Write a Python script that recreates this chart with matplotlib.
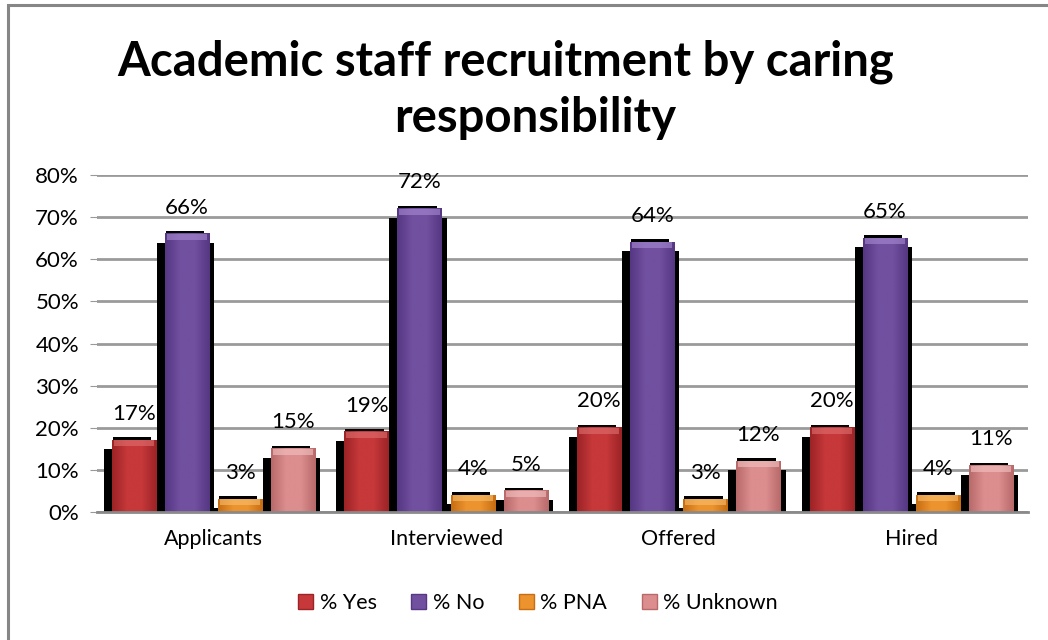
import numpy as np
import matplotlib
matplotlib.use('Agg')
import matplotlib.pyplot as plt
from matplotlib.patches import Patch, Rectangle
from matplotlib.colors import LinearSegmentedColormap

categories = ['Applicants', 'Interviewed', 'Offered', 'Hired']
series = ['% Yes', '% No', '% PNA', '% Unknown']
pct_yes = [17, 19, 20, 20]
pct_no = [66, 72, 64, 65]
pct_pna = [3, 4, 3, 4]
pct_unknown = [15, 5, 12, 11]

# (edge, middle, top highlight)
colors = [('#9c2326', '#c6383a', '#e07070'),
          ('#553783', '#7150a0', '#a98bd4'),
          ('#c76d12', '#ec932e', '#f8c070'),
          ('#b86a6a', '#dc8d8d', '#f3c4c4')]

plt.rcParams['font.family'] = ['Lato', 'DejaVu Sans']

fig = plt.figure(figsize=(10.48, 6.4), dpi=100)
ax = fig.add_axes([97 / 1048, 128 / 640, 931 / 1048, 337 / 640])

# chart area border (right/bottom fall outside the image)
fig.patches.append(Rectangle((8 / 1048, -0.05), 1.2, 635 / 640 + 0.05,
                             transform=fig.transFigure, fill=False,
                             edgecolor='#868686', linewidth=2.2))

x = np.arange(len(categories))
pitch = 0.228
width = 0.19
px = 1 / 232.75          # one pixel in x data units
py = 0.8 / 337           # one pixel in y data units

for i, vals in enumerate([pct_yes, pct_no, pct_pna, pct_unknown]):
    v = np.array(vals) / 100
    xs = x + (i - 1.5) * pitch
    edge, mid, hi = colors[i]
    # black shadow behind each bar
    ax.bar(xs - 1.5 * px, v - 9 * py, width=width + 13 * px,
           color='black', zorder=2)
    ax.bar(xs - 2 * px, v + 3 * py, width=width - 6 * px,
           color='black', zorder=2)
    cmap = LinearSegmentedColormap.from_list('c%d' % i, [edge, mid, mid, edge])
    grad = np.linspace(0, 1, 64).reshape(1, -1)
    for xc, h in zip(xs, v):
        ax.imshow(grad, extent=[xc - width / 2, xc + width / 2, 0, h],
                  aspect='auto', cmap=cmap, zorder=3, interpolation='bilinear')
        ax.bar(xc, 6 * py, bottom=h - 6 * py, width=width - 4 * px,
               color=hi, alpha=0.6, zorder=4)
    for xc, h, val in zip(xs, v, vals):
        ax.annotate('%d%%' % val, (xc, h), xytext=(0, 19),
                    textcoords='offset points', ha='center', va='center',
                    fontsize=16, color='black', zorder=5)

ax.set_xlim(-0.5, len(categories) - 0.5)
ax.set_ylim(0, 0.8)
ax.set_yticks(np.arange(0, 0.81, 0.1))
ax.set_yticklabels(['%d%%' % t for t in range(0, 81, 10)], fontsize=16)
ax.set_xticks(x)
ax.set_xticklabels(categories, fontsize=15.5)
ax.tick_params(axis='x', length=0, pad=12)
ax.tick_params(axis='y', length=5, color='#999999', pad=8)
ax.yaxis.grid(True, color='#9a9a9a', linewidth=2)
ax.set_axisbelow(True)
for s in ['top', 'right', 'left']:
    ax.spines[s].set_visible(False)
ax.spines['bottom'].set_color('#8a8a8a')
ax.spines['bottom'].set_linewidth(2)
ax.spines['bottom'].set_zorder(6)

fig.text(506 / 1048, 1 - 62 / 640, 'Academic staff recruitment by caring',
         ha='center', va='center', fontsize=34, fontweight='bold')
fig.text(535 / 1048, 1 - 118 / 640, 'responsibility',
         ha='center', va='center', fontsize=34, fontweight='bold')

handles = [Patch(facecolor=c[1], edgecolor=c[0]) for c in colors]
fig.legend(handles, series, loc='center', bbox_to_anchor=(538 / 1048, 1 - 603 / 640),
           ncol=4, frameon=False, fontsize=15.5, handlelength=0.7, handleheight=0.7,
           handletextpad=0.3, columnspacing=1.6)

fig.savefig('out.png', dpi=100)
